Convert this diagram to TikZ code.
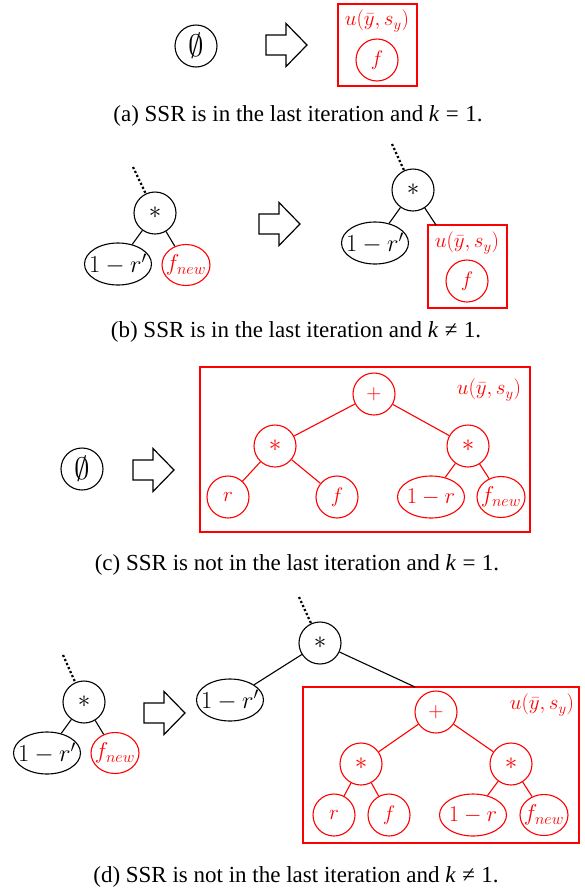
\RequirePackage{fix-cm}
\documentclass[tikz,border=0pt]{standalone}
\usepackage[no-math]{fontspec}
\newfontfamily\capfont{Liberation Serif}
\usetikzlibrary{shapes.geometric}
\tikzset{
  fatarrow/.pic={\draw[line width=1.2pt,line join=miter] (0,-10) -- (20,-10) -- (20,-21.5) -- (41,0) -- (20,21.5) -- (20,10) -- (0,10) -- cycle;},
}
\newcommand{\capsp}{\hspace{0.28em}}
\newcommand{\zb}[1]{\makebox[0pt]{#1}}
\begin{document}
\begin{tikzpicture}[x=1pt,y=-1pt,
  every node/.style={font=\fontsize{21}{25}\selectfont},
  bn/.style={circle,draw,line width=1.1pt,minimum size=42pt,inner sep=0pt},
  rn/.style={bn,draw=red,text=red},
  sn/.style={bn,font=\fontsize{25}{29}\selectfont},
  rsn/.style={rn,font=\fontsize{25}{29}\selectfont},
  en/.style={bn,font=\fontsize{31}{35}\selectfont},
  be/.style={ellipse,draw,line width=1.1pt,minimum width=67pt,minimum height=42pt,inner sep=0pt,font=\fontsize{24.5}{28}\selectfont},
  re/.style={be,draw=red,text=red,font=\fontsize{22.5}{26}\selectfont},
  rfn/.style={ellipse,draw=red,text=red,line width=1.1pt,inner sep=0pt,minimum width=48pt,minimum height=41pt,font=\fontsize{23}{27}\selectfont},
  bedge/.style={line width=1.1pt},
  redge/.style={bedge,red},
  dotl/.style={line width=2.2pt,dash pattern=on 2.2pt off 2.2pt},
  rbox/.style={draw=red,line width=1.4pt,inner sep=0pt,rectangle},
  ulab/.style={text=red,inner sep=0pt},
  captxt/.style={font=\capfont\fontsize{23}{27}\selectfont},
]
\useasboundingbox (0,0) rectangle (585,892);

% ---------- (a)
\node[en] (a0) at (196,46) {$\emptyset$};
\pic at (266,45) {fatarrow};
\node[rbox,minimum width=79pt,minimum height=82pt] (abox) at (377.5,45) {};
\node[ulab] (alab) at (377,21) {$u(\bar{y},s_y)$};
\node[rn] (af) at (377,60) {$f$};
\node[captxt] (capa) at (298,116) {(a) SSR is in the last iteration and \textit{k}\capsp=\capsp1.};

% ---------- (b)
\coordinate (bd1) at (133,167);
\node[sn] (bs1) at (155,213) {$*$};
\node[be] (br1) at (118,264) {\zb{$1-r'$}};
\node[rfn] (bf1) at (186,265) {\zb{$f_{new}$}};
\draw[dotl] (bd1) -- (bs1);
\draw[bedge] (bs1) -- (br1);
\draw[bedge] (bs1) -- (bf1);
\pic at (259,224) {fatarrow};
\coordinate (bd2) at (392,144);
\node[sn] (bs2) at (413,190) {$*$};
\node[be] (br2) at (375,243) {\zb{$1-r'$}};
\node[rbox,minimum width=79pt,minimum height=83pt] (bbox) at (467.5,266.5) {};
\coordinate (bbt) at (436,225);
\node[ulab] (blab) at (467,243) {$u(\bar{y},s_y)$};
\node[rn] (bf2) at (467,281) {$f$};
\draw[dotl] (bd2) -- (bs2);
\draw[bedge] (bs2) -- (br2);
\draw[bedge] (bs2) -- (bbt);
\node[captxt] (capb) at (296,332) {(b) SSR is in the last iteration and \textit{k}\capsp≠\capsp1.};

% ---------- (c)
\node[en] (c0) at (82,469) {$\emptyset$};
\pic at (133,470) {fatarrow};
\node[rbox,minimum width=330pt,minimum height=165pt] (cbox) at (365,449.5) {};
\node[ulab] (clab) at (489,390) {$u(\bar{y},s_y)$};
\node[rn] (cp) at (374,394) {$+$};
\node[rsn] (csl) at (275,446) {$*$};
\node[rsn] (csr) at (468,446) {$*$};
\node[rn] (cr) at (228,497) {$r$};
\node[rn] (cf) at (337,497) {$f$};
\node[re] (cmr) at (431,497) {\zb{$1-r$}};
\node[rfn] (cfn) at (501,497) {\zb{$f_{new}$}};
\draw[redge] (cp) -- (csl);
\draw[redge] (cp) -- (csr);
\draw[redge] (csl) -- (cr);
\draw[redge] (csl) -- (cf);
\draw[redge] (csr) -- (cmr);
\draw[redge] (csr) -- (cfn);
\node[captxt] (capc) at (297,565) {(c) SSR is not in the last iteration and \textit{k}\capsp=\capsp1.};

% ---------- (d)
\coordinate (dd1) at (63,655);
\node[sn] (ds1) at (84,702) {$*$};
\node[be] (dr1) at (47,753) {\zb{$1-r'$}};
\node[rfn] (df1) at (115,753) {\zb{$f_{new}$}};
\draw[dotl] (dd1) -- (ds1);
\draw[bedge] (ds1) -- (dr1);
\draw[bedge] (ds1) -- (df1);
\pic at (144,713) {fatarrow};
\coordinate (dd2) at (299,597);
\node[sn] (ds2) at (320,643) {$*$};
\node[be] (dr2) at (230,700) {\zb{$1-r'$}};
\node[rbox,minimum width=276pt,minimum height=156pt] (dbox) at (441,765) {};
\coordinate (dbt) at (415,687);
\draw[dotl] (dd2) -- (ds2);
\draw[bedge] (ds2) -- (dr2);
\draw[bedge] (ds2) -- (dbt);
\node[ulab] (dlab) at (542,705) {$u(\bar{y},s_y)$};
\node[rn] (dp) at (436,712) {$+$};
\node[rsn] (dsl) at (361,764) {$*$};
\node[rsn] (dsr) at (511,764) {$*$};
\node[rn] (dr) at (334,815) {$r$};
\node[rn] (df) at (389,815) {$f$};
\node[re] (dmr) at (473,815) {\zb{$1-r$}};
\node[rfn] (dfn) at (544,815) {\zb{$f_{new}$}};
\draw[redge] (dp) -- (dsl);
\draw[redge] (dp) -- (dsr);
\draw[redge] (dsl) -- (dr);
\draw[redge] (dsl) -- (df);
\draw[redge] (dsr) -- (dmr);
\draw[redge] (dsr) -- (dfn);
\node[captxt] (capd) at (296,877) {(d) SSR is not in the last iteration and \textit{k}\capsp≠\capsp1.};
\end{tikzpicture}
\end{document}
